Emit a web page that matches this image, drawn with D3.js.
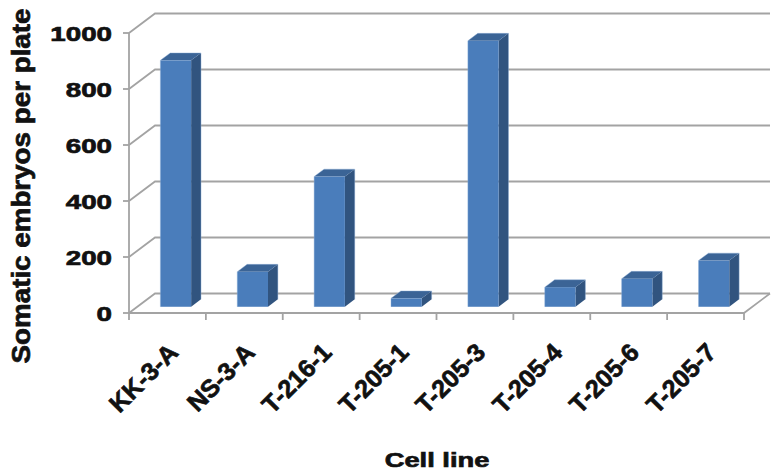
<!DOCTYPE html>
<html>
<head>
<meta charset="utf-8">
<script src="https://cdn.jsdelivr.net/npm/d3@7"></script>
<style>
  html, body { margin: 0; padding: 0; background: #ffffff; }
  svg { display: block; }
  text { font-family: "Liberation Sans", Arial, Helvetica, sans-serif; font-weight: bold; fill: #111; stroke: #111; stroke-width: 0.7px; }
</style>
</head>
<body>
<svg id="chart" width="772" height="473"></svg>
<script>
// Cell lines and somatic embryo counts per plate
const categories = ["KK-3-A", "NS-3-A", "T-216-1", "T-205-1", "T-205-3", "T-205-4", "T-205-6", "T-205-7"];
const embryos = [880, 125, 465, 30, 950, 70, 100, 165];
const yTicks = [0, 200, 400, 600, 800, 1000];
const xTitle = "Cell line";
const yTitle = "Somatic embryos per plate";

const svg = d3.select("#chart");

// Front plane scales
const x = d3.scaleBand().domain(categories).range([129, 744]).padding(0);
const y = d3.scaleLinear().domain([0, 1000]).range([313, 33]);

// Oblique depth vector of the 3-D box
const DX = 26, DY = -19.5;
const depthFront = 0.32, depthBack = 0.70;

const gridColor = "#a3a3a3";
const grid = svg.append("g").attr("fill", "none").attr("stroke", gridColor).attr("stroke-width", 1.8);

// Back wall gridlines and side wall diagonals
yTicks.forEach(v => {
  const yf = y(v);
  grid.append("path").attr("d", `M${x.range()[0]},${yf} L${x.range()[0] + DX},${yf + DY} L${x.range()[1] + DX},${yf + DY}`);
});

// Floor: front edge and right diagonal
grid.append("path").attr("d", `M${x.range()[0]},${y(0)} L${x.range()[1]},${y(0)} L${x.range()[1] + DX},${y(0) + DY}`);

// Vertical axis line
grid.append("line").attr("x1", x.range()[0]).attr("x2", x.range()[0]).attr("y1", y(1000)).attr("y2", y(0));

// Value axis ticks
yTicks.forEach(v => {
  grid.append("line").attr("x1", x.range()[0] - 6).attr("x2", x.range()[0]).attr("y1", y(v)).attr("y2", y(v));
});

// Category boundary ticks
const bounds = categories.map(c => x(c)).concat([x.range()[1]]);
bounds.forEach(b => {
  grid.append("line").attr("x1", b).attr("x2", b).attr("y1", y(0)).attr("y2", y(0) + 7);
});

// 3-D columns
const bars = svg.append("g");
const step = x.step();
categories.forEach((c, i) => {
  const v = embryos[i];
  const xl = x(c) + step * 0.3, xr = x(c) + step * 0.7;
  const f = d => [DX * d, DY * d];
  const [fx0, fy0] = f(depthFront), [fx1, fy1] = f(depthBack);
  const top = y(v), base = y(0);
  const g = bars.append("g");
  // side face
  g.append("path")
    .attr("d", `M${xr + fx0},${top + fy0} L${xr + fx1},${top + fy1} L${xr + fx1},${base + fy1} L${xr + fx0},${base + fy0} Z`)
    .attr("fill", "#31547f");
  // top face
  g.append("path")
    .attr("d", `M${xl + fx0},${top + fy0} L${xr + fx0},${top + fy0} L${xr + fx1},${top + fy1} L${xl + fx1},${top + fy1} Z`)
    .attr("fill", "#3b6496");
  // front face
  g.append("rect")
    .attr("x", xl + fx0).attr("y", top + fy0)
    .attr("width", xr - xl).attr("height", base - top)
    .attr("fill", "#4a7dbb");
  g.append("path")
    .attr("d", `M${xl + fx0},${base + fy0} L${xl + fx0},${top + fy0} L${xl + fx1},${top + fy1} L${xr + fx1},${top + fy1} L${xr + fx1},${base + fy1}`)
    .attr("fill", "none").attr("stroke", "#8fb0d8").attr("stroke-width", 0.7).attr("stroke-opacity", 0.6);
});

// Value axis labels
svg.append("g").selectAll("text").data(yTicks).join("text")
  .attr("transform", d => `translate(112,${y(d)}) scale(1.32,1)`)
  .attr("dy", "0.36em")
  .attr("text-anchor", "end")
  .attr("font-size", 21)
  .text(d => d);

// Category labels, slanted
svg.append("g").selectAll("text").data(categories).join("text")
  .attr("transform", d => `translate(${x(d) + step / 2 + 12},354) rotate(-45)`)
  .attr("text-anchor", "end")
  .attr("font-size", 25)
  .text(d => d);

// Axis titles
svg.append("text")
  .attr("transform", "translate(437,467) scale(1.3,1)")
  .attr("text-anchor", "middle")
  .attr("font-size", 21)
  .text(xTitle);

svg.append("text")
  .attr("transform", "translate(30,186) rotate(-90)")
  .attr("text-anchor", "middle")
  .attr("font-size", 26)
  .attr("textLength", 355)
  .attr("lengthAdjust", "spacingAndGlyphs")
  .text(yTitle);
</script>
</body>
</html>
